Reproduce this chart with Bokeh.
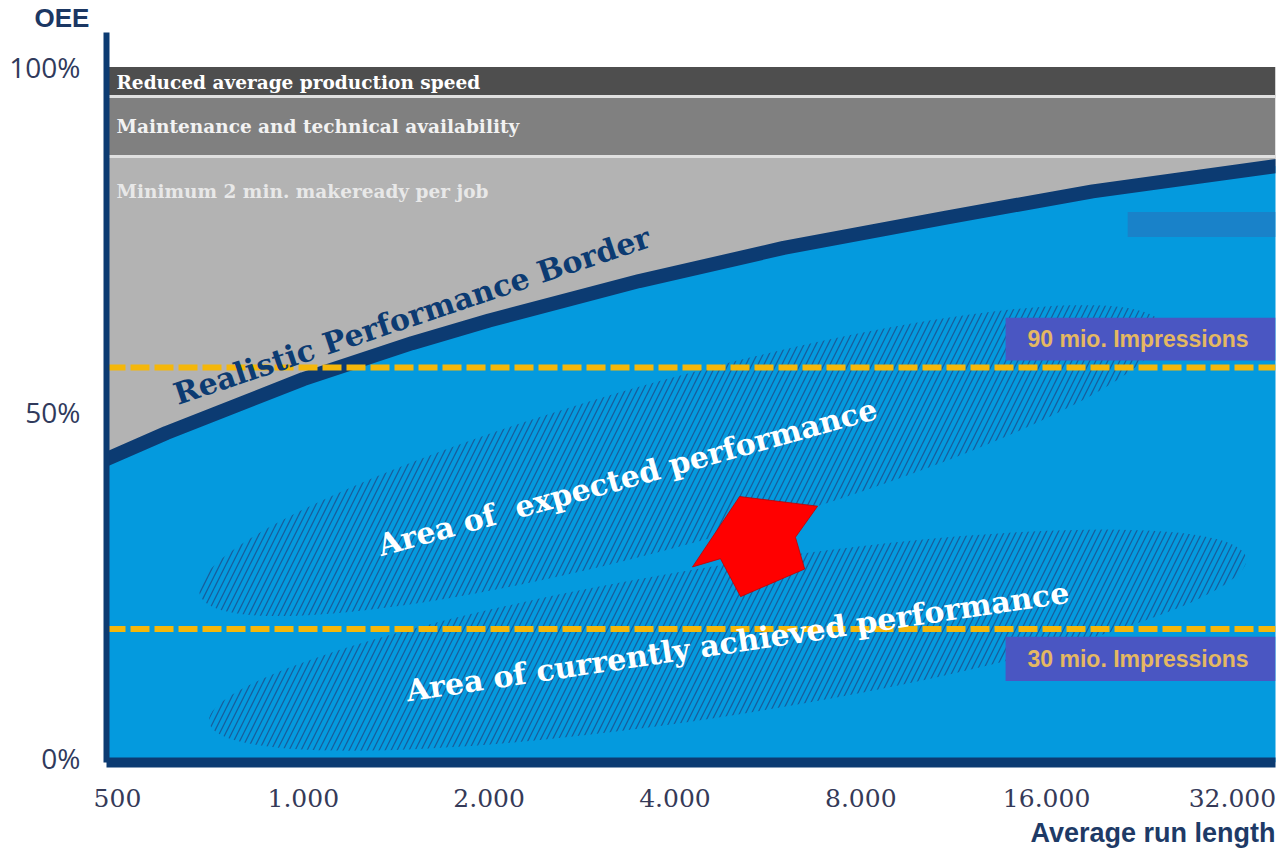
import math
from bokeh.plotting import figure
from bokeh.models import FixedTicker, Label, Range1d, Title
from bokeh.core.properties import value
from bokeh.embed import file_html
from bokeh.resources import INLINE

# ---------------- data ----------------
x_ticks = [500, 1000, 2000, 4000, 8000, 16000, 32000]
x_tick_labels = ["500", "1.000", "2.000", "4.000", "8.000", "16.000", "32.000"]
y_ticks = [0, 50, 100]
y_tick_labels = ["0%", "50%", "100%"]

# Realistic Performance Border: OEE (%) against average run length
border_run_length = [460, 600, 1000, 1500, 2000, 3500, 6000, 11000, 19000, 38000]
border_oee = [42.5, 47.0, 54.8, 60.0, 63.3, 69.0, 73.8, 78.2, 82.0, 85.7]

# Loss bands at the top of the chart
band_labels = ["Reduced average production speed", "Maintenance and technical availability"]
band_bottom = [95.8, 87.0]
band_top = [100.0, 95.8]
makeready_label = "Minimum 2 min. makeready per job"

# Impression levels (dashed lines)
impression_labels = ["90 mio. Impressions", "30 mio. Impressions"]
impression_oee = [56.5, 18.6]

# Performance areas (hatched)
area_labels = ["Area of\u00a0\u00a0expected performance", "Area of currently achieved performance"]
area_run_length = [4100, 4870]
area_oee = [43.0, 17.0]
area_text_run_length = [3350, 5050]
area_text_oee = [40.6, 16.8]

# Red improvement arrow outline (run length, OEE %)
arrow_run_length = [5090, 6810, 6270, 6490, 5110, 4740, 4270]
arrow_oee = [37.8, 36.4, 31.9, 27.3, 23.3, 28.8, 27.6]

# ---------------- figure ----------------
X0, X1 = 480, 37575
Y0, Y1 = -0.72, 105.0

p = figure(width=1279, height=859, x_axis_type="log",
           x_range=Range1d(X0, X1), y_range=Range1d(Y0, Y1),
           output_backend="svg", toolbar_location=None,
           min_border_left=106, min_border_right=4,
           min_border_top=22, min_border_bottom=97)
p.outline_line_color = None
p.grid.visible = False
p.background_fill_color = "white"

BLUE = "#049ade"
NAVY = "#0c3b72"
GOLD = "#f5b70a"
BOX = "#4a56c2"

# fills
p.varea(x=border_run_length, y1=border_oee, y2=band_bottom[-1], fill_color="#b3b3b3")
p.varea(x=border_run_length, y1=Y0, y2=border_oee, fill_color=BLUE)
p.quad(left=X0, right=X1, bottom=band_bottom, top=band_top,
       fill_color=["#4e4e4e", "#808080"], line_color=None)
p.hspan(y=band_bottom, line_color="#e0e0e0", line_width=3)

# brush stroke decoration
p.quad(left=21650, right=X1, bottom=75.4, top=79.0, fill_color="#1c80c6",
       fill_alpha=0.9, line_color=None)

# hatched performance areas
p.ellipse(x=area_run_length, y=area_oee, width=[1000, 1050], height=[165, 150],
          angle=[math.radians(15.5), math.radians(9)],
          width_units="screen", height_units="screen",
          fill_alpha=0, line_alpha=0, hatch_pattern="/",
          hatch_color="#1a4f8c", hatch_alpha=0.8, hatch_weight=1.3, hatch_scale=12)

# border curve
p.line(border_run_length, border_oee, line_color=NAVY, line_width=14)

# impression label boxes
p.quad(left=13730, right=X1, bottom=[impression_oee[0] + 1.0, impression_oee[1] - 7.5],
       top=[impression_oee[0] + 7.2, impression_oee[1] - 1.1],
       fill_color=BOX, line_color=None)
p.text(x=[14900, 14900], y=[impression_oee[0] + 4.1, impression_oee[1] - 4.3],
       text=impression_labels, text_font=value("Liberation Sans"),
       text_font_style="bold", text_font_size="23px", text_color="#e4b862",
       text_align="left", text_baseline="middle")

# dashed lines
for lvl in impression_oee:
    p.line([X0, X1], [lvl, lvl], line_color=GOLD, line_width=6, line_dash="19 5")

# band labels
p.text(x=[X0, X0, X0], y=[97.8, 91.4, 82.0],
       text=band_labels + [makeready_label], x_offset=10,
       text_font=value("DejaVu Serif"), text_font_style="bold", text_font_size="18.5px",
       text_color=["#ffffff", "#f2f2f2", "#e8e8e8"], text_baseline="middle")

# rotated labels
p.add_layout(Label(x=1500, y=64.0, text="Realistic Performance Border",
                   angle=math.radians(18.5), text_font="DejaVu Serif", text_font_style="bold",
                   text_font_size="30px", text_color=NAVY,
                   text_align="center", text_baseline="middle"))
angles = [15.5, 8.5]
for lab, xr, yo, a in zip(area_labels, area_text_run_length, area_text_oee, angles):
    p.add_layout(Label(x=xr, y=yo, text=lab, angle=math.radians(a),
                       text_font="DejaVu Serif", text_font_style="bold",
                       text_font_size="30px", text_color="white",
                       text_align="center", text_baseline="middle"))

# red arrow
p.patch(arrow_run_length, arrow_oee, fill_color="#ff0000", line_color="#c00000", line_width=0.8)

# axes
xa = p.xaxis[0]
xa.ticker = FixedTicker(ticks=x_ticks)
xa.major_label_overrides = {t: l for t, l in zip(x_ticks, x_tick_labels)}
xa.axis_line_color = NAVY
xa.axis_line_width = 10
xa.major_tick_line_color = None
xa.minor_tick_line_color = None
xa.major_label_text_font = "DejaVu Serif"
xa.major_label_text_font_size = "25px"
xa.major_label_text_color = "#353a58"
xa.major_label_standoff = 20

ya = p.yaxis[0]
ya.ticker = FixedTicker(ticks=y_ticks)
ya.major_label_overrides = {t: l for t, l in zip(y_ticks, y_tick_labels)}
ya.axis_line_color = NAVY
ya.axis_line_width = 6
ya.major_tick_line_color = None
ya.minor_tick_line_color = None
ya.major_label_text_font = "Open Sans"
ya.major_label_text_font_size = "28px"
ya.major_label_text_color = "#303a5c"
ya.major_label_standoff = 20

# axis titles
p.add_layout(Title(text="OEE", align="left", offset=-72, standoff=0,
                   text_font="Liberation Sans", text_font_style="bold",
                   text_font_size="26px", text_color="#1b3763"), "above")
p.add_layout(Title(text="Average run length", align="right", standoff=12,
                   text_font="Liberation Sans", text_font_style="bold",
                   text_font_size="27px", text_color="#1e3a66"), "below")

open("out.html", "w").write(file_html(p, INLINE))
